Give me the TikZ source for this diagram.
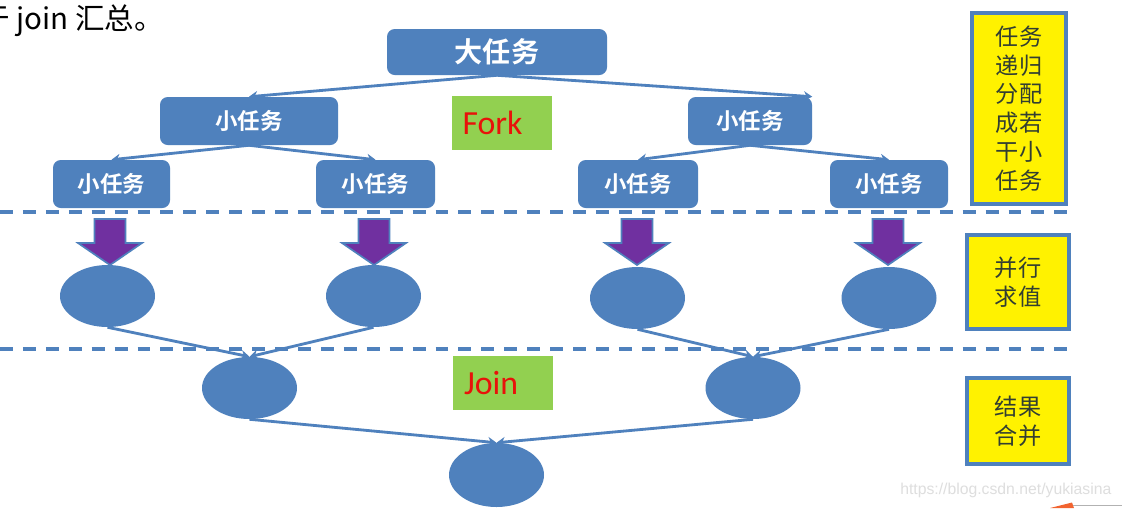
\documentclass[tikz,border=0pt]{standalone}
\usepackage{fontspec}
\usetikzlibrary{arrows.meta,shapes.geometric}
\newfontfamily\cjk{Noto Sans CJK SC}[BoldFont={Noto Sans CJK SC Bold}]
\newfontfamily\carl{Carlito}
\newfontfamily\arialx{Liberation Sans}
\definecolor{boxblue}{RGB}{79,129,189}
\definecolor{arrpurple}{RGB}{112,48,160}
\definecolor{forkgreen}{RGB}{146,208,80}
\definecolor{forkred}{RGB}{232,18,10}
\definecolor{ytext}{RGB}{50,62,50}
\definecolor{wmgray}{RGB}{222,222,222}
\definecolor{corner}{RGB}{242,100,48}
\tikzset{
  task/.style={rectangle, rounded corners=5.5pt, fill=boxblue, text=white, inner sep=0pt,
    font=\cjk\bfseries\fontsize{16}{18}\selectfont, minimum height=48*0.025cm},
  ell/.style={ellipse, fill=boxblue, inner sep=0pt, minimum width=95*0.025cm, minimum height=62*0.025cm},
  conn/.style={draw=boxblue, line width=2pt, -{Stealth[length=6pt,width=7pt]}},
  sepline/.style={draw=boxblue, line width=2.2pt, dash pattern=on 9.2pt off 7.1pt},
  phase/.style={rectangle, fill=forkgreen, text=forkred, inner ysep=0pt, inner xsep=11*0.025cm,
    text width=78*0.025cm, align=left,
    font=\carl\fontsize{24}{28}\selectfont, minimum height=54*0.025cm},
  notebox/.style={rectangle, fill=yellow, draw=boxblue, line width=2.6pt, text=ytext, inner sep=0pt,
    align=center, font=\cjk\fontsize{16.5}{20.5}\selectfont},
  blockarr/.pic={\path[fill=arrpurple, draw=boxblue, line width=1.2pt]
     (-15.5,0) -- (15.5,0) -- (15.5,24) -- (32,24) -- (0,46) -- (-32,24) -- (-15.5,24) -- cycle;}
}
\begin{document}
\begin{tikzpicture}[x=0.025cm, y=-0.025cm]
\useasboundingbox (0,0) rectangle (1122,508);
\fill[white] (0,0) rectangle (1122,508);
\clip (0,0) rectangle (1122,508);

% top partial sentence
\node[anchor=west, inner sep=0pt, font=\cjk\fontsize{21}{24}\selectfont] (intro) at (-20,21) {于 join 汇总。};

% separators
\draw[sepline] (0,212) -- (1077,212);
\draw[sepline] (0,349) -- (1069,349);

% task tree
\node[task, font=\cjk\bfseries\fontsize{20}{22}\selectfont, minimum width=220*0.025cm, minimum height=46*0.025cm] (big) at (497,52) {大任务};
\node[task, minimum width=178*0.025cm] (s1L) at (249,121) {小任务};
\node[task, minimum width=124*0.025cm] (s1R) at (750,121) {小任务};
\node[task, minimum width=117*0.025cm] (s2a) at (111.5,184) {小任务};
\node[task, minimum width=119*0.025cm] (s2b) at (375.5,184) {小任务};
\node[task, minimum width=120*0.025cm] (s2c) at (638,184) {小任务};
\node[task, minimum width=118*0.025cm] (s2d) at (889,184) {小任务};

\draw[conn] (big.south) -- (s1L.north);
\draw[conn] (big.south) -- (s1R.north east);
\draw[conn] (s1L.south) -- (s2a.north);
\draw[conn] (s1L.south) -- (s2b.north);
\draw[conn] (s1R.south) -- (s2c.north);
\draw[conn] (s1R.south) -- (s2d.north);

\node[phase] (fork) at (501.5,123) {Fork};
\node[phase] (join) at (503,383) {Join};

% block arrows
\pic at (110,219) {blockarr};
\pic at (374,219) {blockarr};
\pic at (637,219) {blockarr};
\pic at (888,219) {blockarr};

% ellipses
\node[ell] (e1) at (107.5,296) {};
\node[ell] (e2) at (373.5,296) {};
\node[ell] (e3) at (637.5,298) {};
\node[ell] (e4) at (889,298) {};
\node[ell] (f1) at (249.5,388) {};
\node[ell] (f2) at (753,388) {};
\node[ell, minimum height=64*0.025cm] (g) at (496.5,475) {};

\draw[conn] (e1.south) -- (f1.north);
\draw[conn] (e2.south) -- (f1.north);
\draw[conn] (e3.south) -- (f2.north);
\draw[conn] (e4.south) -- (f2.north);
\draw[conn] (f1.south) -- (g.north);
\draw[conn] (f2.south) -- (g.north);

% notes
\node[notebox, minimum width=94*0.025cm, minimum height=191*0.025cm] (n1) at (1019,108.5) {任务\\递归\\分配\\成若\\干小\\任务};
\node[notebox, minimum width=102*0.025cm, minimum height=94*0.025cm] (n2) at (1018,282) {并行\\求值};
\node[notebox, minimum width=102*0.025cm, minimum height=86*0.025cm] (n3) at (1018,421) {结果\\合并};

% watermark and corner
\node[anchor=west, inner sep=0pt, text=wmgray, font=\arialx\fontsize{11.2}{13}\selectfont] (wm) at (900,490) {https://blog.csdn.net/yukiasina};
\fill[corner] (1050,508) -- (1072,502.5) -- (1074,508) -- cycle;
\draw[gray!60, line width=0.7pt] (1073,505.5) -- (1122,505.5);
\end{tikzpicture}
\end{document}
